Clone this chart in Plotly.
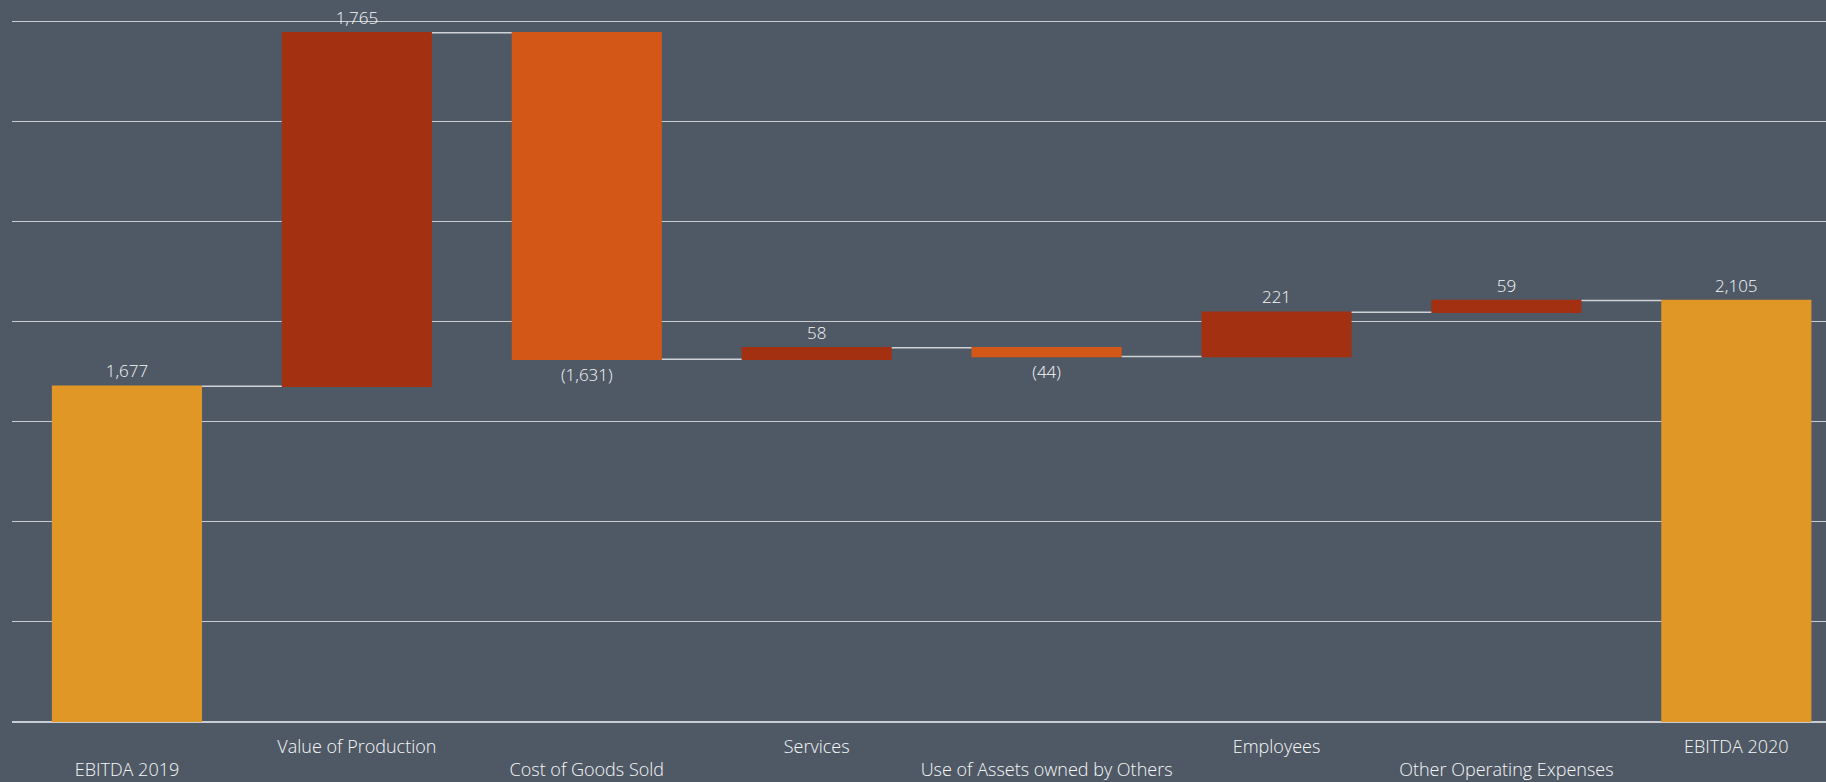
import plotly.graph_objects as go

categories = ["EBITDA 2019", "Value of Production", "Cost of Goods Sold", "Services",
              "Use of Assets owned by Others", "Employees", "Other Operating Expenses", "EBITDA 2020"]
values = [1677, 1765, -1631, 58, -44, 221, 59, 2105]
measures = ["absolute", "relative", "relative", "relative", "relative", "relative", "relative", "total"]
labels = ["1,677", "1,765", "(1,631)", "58", "(44)", "221", "59", "2,105"]
y_ticks = [0, 500, 1000, 1500, 2000, 2500, 3000, 3500]

BG = "#4F5966"
FONT = "Open Sans"

tick_text = [("<br>" + c) if i % 2 == 0 else c for i, c in enumerate(categories)]

fig = go.Figure(go.Waterfall(
    x=list(range(len(categories))),
    y=values,
    measure=measures,
    text=labels,
    textposition="outside",
    textfont=dict(color="#F7F7F7", size=17, family=FONT, weight=300),
    increasing=dict(marker=dict(color="#A33011")),
    decreasing=dict(marker=dict(color="#D35717")),
    totals=dict(marker=dict(color="#E09726")),
    connector=dict(line=dict(color="#D0D3D6", width=1.5), mode="between"),
    width=[0.653] * len(categories),
    cliponaxis=False,
    showlegend=False,
))

fig.update_layout(
    width=1826, height=782,
    paper_bgcolor=BG, plot_bgcolor=BG,
    margin=dict(l=12, r=0, t=13, b=60),
    font=dict(family=FONT, color="#F7F7F7", size=17),
    xaxis=dict(
        range=[-0.5, 7.39],
        tickmode="array",
        tickvals=list(range(len(categories))),
        ticktext=tick_text,
        showgrid=False,
        zeroline=False,
        showline=False,
        ticks="",
        automargin=False,
        ticklabelstandoff=12,
        tickfont=dict(size=18, color="#F7F7F7", family=FONT, weight=300),
    ),
    yaxis=dict(
        range=[0, 3540],
        tickvals=y_ticks,
        showticklabels=False,
        showgrid=True,
        gridcolor="#C9CCD0",
        gridwidth=1,
        zeroline=True,
        zerolinecolor="#C9CCD0",
        zerolinewidth=1.5,
        automargin=False,
    ),
)

fig.write_html("out.html", config={"displayModeBar": False},
               post_script="document.body.style.margin='0';")
